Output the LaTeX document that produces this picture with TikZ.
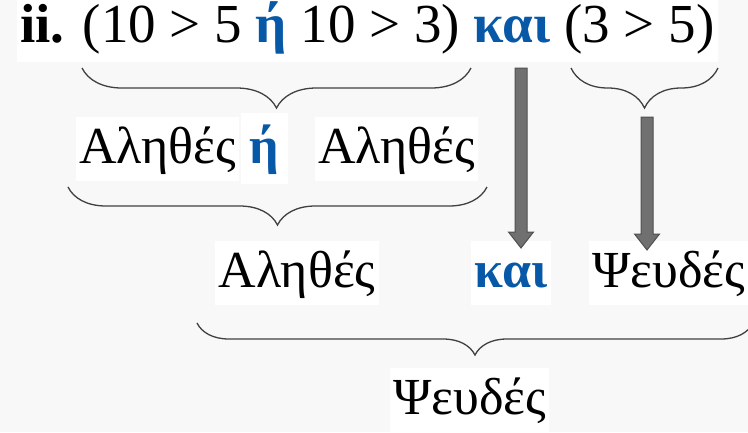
\documentclass[tikz,border=0pt]{standalone}
\usepackage{fontspec}
\setmainfont{Liberation Serif}
\usetikzlibrary{calc}
\usetikzlibrary{decorations.pathreplacing}
\definecolor{bggray}{RGB}{248,248,248}
\definecolor{opblue}{RGB}{8,88,168}
\definecolor{arrowfill}{RGB}{112,112,112}
\definecolor{arrowedge}{RGB}{80,80,80}
\definecolor{bracegray}{RGB}{64,64,64}
\tikzset{
  txtbox/.style={fill=white,inner xsep=3.5pt,inner ysep=0pt,text height=46pt,text depth=18pt,
    anchor=base,font=\fontsize{52}{52}\selectfont},
  opword/.style={txtbox,text=opblue,font=\fontsize{52}{52}\selectfont\bfseries},
  curly/.style={draw=bracegray,line width=1.3pt,decorate,decoration={brace,mirror,amplitude=#1}},
  blockarrow/.style={draw=arrowedge,fill=arrowfill,line width=1pt,line join=miter,
    to path={let \p1=(\tikztostart),\p2=(\tikztotarget) in
      (\x1-6pt,\y1) -- (\x1+6pt,\y1) -- (\x1+6pt,\y2+16pt) -- (\x1+12.5pt,\y2+16pt)
      -- (\x1,\y2) -- (\x1-12.5pt,\y2+16pt) -- (\x1-6pt,\y2+16pt) -- cycle}}
}

\begin{document}
\begin{tikzpicture}[x=1pt,y=-1pt]
        % background
        \fill[bggray] (0,0) rectangle (748,432);
        \useasboundingbox (0,0) rectangle (748,432);
        \clip (0,0) rectangle (748,432);
        % the expression
        \node[txtbox,anchor=base west,inner xsep=3pt,text height=44pt,text depth=20pt,
          font=\fontsize{55}{55}\selectfont] (expr) at (17,42)
          {\textbf{ii.} (10 > 5 {\bfseries\color{opblue}ή} 10 > 3) {\bfseries\color{opblue}και} (3 > 5)};
        % first step
        \node[txtbox] (true1) at (157.5,163) {Αληθές};
        \node[opword,inner xsep=9pt,text height=50pt,text depth=21pt] (or) at (264.5,163) {ή};
        \node[txtbox] (true2) at (396.5,163) {Αληθές};
        % second step
        \node[txtbox] (true3) at (297,287) {Αληθές};
        \node[opword] (and) at (511,287) {και};
        \node[txtbox] (false1) at (668.5,287) {Ψευδές};
        % result
        \node[txtbox] (false2) at (469.5,414) {Ψευδές};
        % braces
        \draw[curly=40pt] (82,68) -- (471,68);
        \draw[curly=40pt] (571,68) -- (718,68);
        \draw[curly=38pt] (68,187) -- (487,187);
        \draw[curly=32pt] (197,323) -- (753,323);
        % arrows
        \coordinate (andtop) at (521,68);
        \coordinate (andtip) at (521,248);
        \coordinate (falsetop) at (647,117);
        \coordinate (falsetip) at (647,250);
        \draw[blockarrow] (andtop) to (andtip);
        \draw[blockarrow] (falsetop) to (falsetip);
\end{tikzpicture}
\end{document}
